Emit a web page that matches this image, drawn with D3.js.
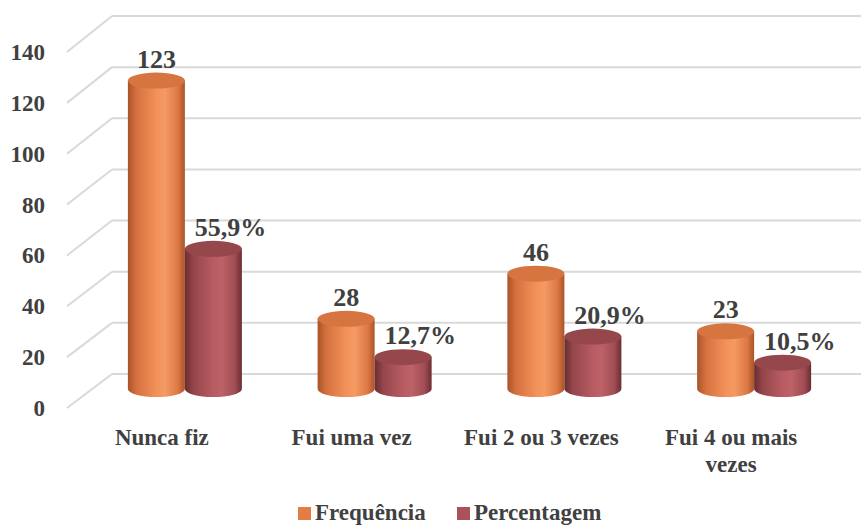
<!doctype html>
<html>
<head>
    <meta charset="utf-8">
    <title>Frequência e Percentagem</title>
    <style type="text/css">
        body { margin: 0; background: #fff; }
        svg text { font-family: "Liberation Serif", "Times New Roman", serif; font-weight: bold; fill: #404040; }
        .grid { stroke: #d9d9d9; stroke-width: 2; fill: none; }
    </style>
</head>
<body>
<div id="chart"></div>
<script src="https://d3js.org/d3.v7.min.js"></script>
<script>
    // data
    var categories = ["Nunca fiz", "Fui uma vez", "Fui 2 ou 3 vezes", "Fui 4 ou mais vezes"];
    var categoryLines = [["Nunca fiz"], ["Fui uma vez"], ["Fui 2 ou 3 vezes"], ["Fui 4 ou mais", "vezes"]];
    var series = ["Frequência", "Percentagem"];
    var frequencia = [123, 28, 46, 23];
    var percentagem = [55.9, 12.7, 20.9, 10.5];
    var yTicks = [0, 20, 40, 60, 80, 100, 120, 140];

    var width = 861, height = 531;
    var depth = { dx: 45, dy: -34 }; // back wall offset from the front plane

    var svg = d3.select("#chart").append("svg")
        .attr("width", width)
        .attr("height", height);

    // gradients for the cylinders
    var defs = svg.append("defs");
    var gradStops = {
        orange: ["#a9532a", "#d4713e", "#f3915a", "#f49a63", "#dc7843", "#a9532a"],
        red: ["#6a2d31", "#94464b", "#b85c62", "#bd6268", "#9f4d53", "#6a2d31"]
    };
    var offsets = [0, 0.15, 0.5, 0.65, 0.88, 1];
    Object.keys(gradStops).forEach(function (k) {
        var g = defs.append("linearGradient").attr("id", "g-" + k)
            .attr("x1", 0).attr("x2", 1).attr("y1", 0).attr("y2", 0);
        gradStops[k].forEach(function (c, i) {
            g.append("stop").attr("offset", offsets[i]).attr("stop-color", c);
        });
    });
    var topColor = { orange: "#d6753f", red: "#95474c" };
    var legendColor = ["#e47d45", "#a9525a"];
    var keyOf = ["orange", "red"];

    // scales: front plane (ticks and labels), middle (cylinders), back wall (grid)
    var x = d3.scaleBand().domain(categories).range([67, 826]);
    var xSub = d3.scaleBand().domain(series).range([-57, 57]);
    var yFront = d3.scaleLinear().domain([0, 140]).range([408, 52]);
    var yMid = d3.scaleLinear().domain([0, 140]).range([389, 38]);
    var yBack = d3.scaleLinear().domain([0, 140]).range([374, 16]);

    // back wall grid + side diagonals
    var grid = svg.append("g");
    grid.selectAll(".h").data(yTicks).enter().append("line")
        .attr("class", "grid")
        .attr("x1", 67 + depth.dx).attr("x2", width)
        .attr("y1", function (d) { return yBack(d); })
        .attr("y2", function (d) { return yBack(d); });
    grid.selectAll(".d").data(yTicks).enter().append("line")
        .attr("class", "grid")
        .attr("x1", 67).attr("x2", 67 + depth.dx)
        .attr("y1", function (d) { return yFront(d); })
        .attr("y2", function (d) { return yBack(d); });

    // y tick labels
    svg.append("g").selectAll("text").data(yTicks).enter().append("text")
        .attr("x", 45)
        .attr("y", function (d) { return yFront(d) + 8; })
        .attr("text-anchor", "end")
        .style("font-size", "23px")
        .text(function (d) { return d; });

    // cylinders
    var r = 28.5, ry = 8, midDx = 23;
    var rows = [];
    categories.forEach(function (c, i) {
        rows.push({ cat: c, s: 0, v: frequencia[i], label: String(frequencia[i]) });
        rows.push({ cat: c, s: 1, v: percentagem[i], label: String(percentagem[i]).replace(".", ",") + "%" });
    });

    function cx(d) { return x(d.cat) + x.bandwidth() / 2 + midDx + xSub(series[d.s]) + xSub.bandwidth() / 2; }

    var bars = svg.append("g").selectAll("g").data(rows).enter().append("g");
    bars.append("path")
        .attr("fill", function (d) { return "url(#g-" + keyOf[d.s] + ")"; })
        .attr("d", function (d) {
            var c = cx(d), t = yMid(d.v), b = yMid(0);
            return "M" + (c - r) + "," + t + "L" + (c - r) + "," + b +
                "A" + r + "," + ry + " 0 0 0 " + (c + r) + "," + b +
                "L" + (c + r) + "," + t + "Z";
        });
    bars.append("ellipse")
        .attr("cx", cx)
        .attr("cy", function (d) { return yMid(d.v); })
        .attr("rx", r).attr("ry", ry)
        .attr("fill", function (d) { return topColor[keyOf[d.s]]; });

    // value labels
    bars.append("text")
        .attr("x", function (d) { return cx(d) + (d.s === 1 ? 17 : 0); })
        .attr("y", function (d) { return yMid(d.v) - ry - 5; })
        .attr("text-anchor", "middle")
        .style("font-size", "26px")
        .text(function (d) { return d.label; });

    // category labels on the front plane
    var cats = svg.append("g").selectAll("text").data(categories).enter().append("text")
        .attr("x", function (d) { return x(d) + x.bandwidth() / 2; })
        .attr("y", 445)
        .attr("text-anchor", "middle")
        .style("font-size", "23px");
    cats.selectAll("tspan").data(function (d, i) { return categoryLines[i]; }).enter().append("tspan")
        .attr("x", function () { return d3.select(this.parentNode).attr("x"); })
        .attr("dy", function (d, i) { return i === 0 ? 0 : 27; })
        .text(function (d) { return d; });

    // legend
    var legendX = [298, 457];
    var leg = svg.append("g").selectAll("g").data(series).enter().append("g")
        .attr("transform", function (d, i) { return "translate(" + legendX[i] + ",507)"; });
    leg.append("rect").attr("width", 13).attr("height", 13)
        .attr("fill", function (d, i) { return legendColor[i]; });
    leg.append("text").attr("x", 17).attr("y", 13)
        .style("font-size", "23px")
        .text(function (d) { return d; });
</script>
</body>
</html>
